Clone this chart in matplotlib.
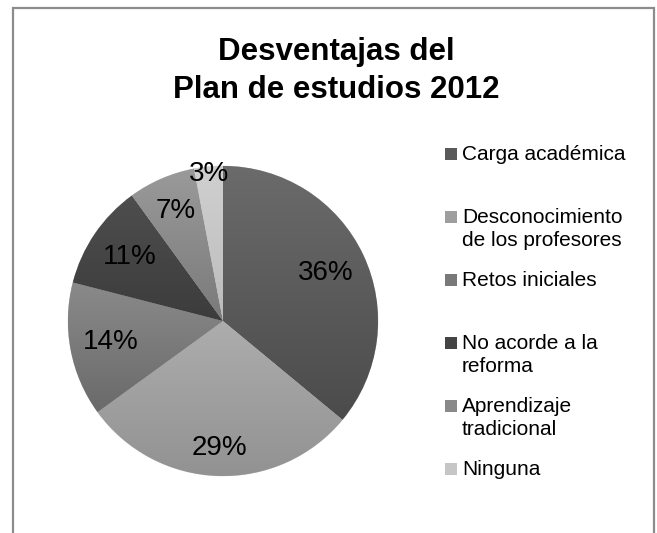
import numpy as np
import matplotlib.pyplot as plt
from matplotlib.patches import Rectangle
from matplotlib.colors import LinearSegmentedColormap

plt.rcParams['font.family'] = ['Liberation Sans', 'DejaVu Sans']

# 데이터
categorias = ['Carga académica', 'Desconocimiento\nde los profesores', 'Retos iniciales',
              'No acorde a la\nreforma', 'Aprendizaje\ntradicional', 'Ninguna']
porcentajes = [36, 29, 14, 11, 7, 3]
titulo = 'Desventajas del\nPlan de estudios 2012'

# 색상 (위쪽 -> 아래쪽 그라데이션)
color_arriba = ['#6b6b6b', '#adadad', '#8a8a8a', '#4e4e4e', '#9a9a9a', '#d0d0d0']
color_abajo = ['#4b4b4b', '#929292', '#6a6a6a', '#3c3c3c', '#7a7a7a', '#bcbcbc']
colores = ['#5a5a5a', '#9e9e9e', '#797979', '#444444', '#898989', '#c6c6c6']

W, H = 657, 533
fig = plt.figure(figsize=(W / 100, H / 100), dpi=100)

# 테두리 (아래쪽은 잘림)
fig.patches.append(Rectangle((13 / W, -0.05), 641 / W, 1.05 - 8 / H, transform=fig.transFigure,
                             fill=False, edgecolor='#8c8c8c', linewidth=1.6, clip_on=False))

fig.text(336 / W, 1 - 71 / H, titulo, ha='center', va='center', fontsize=22.5,
         fontweight='bold', linespacing=1.36)

# 파이
ax = fig.add_axes([68 / W, 1 - 476 / H, 310 / W, 310 / H])
wedges, _ = ax.pie(porcentajes, colors=colores, startangle=90, counterclock=False,
                   wedgeprops=dict(edgecolor='#d8d8d8', linewidth=0.4))

# 조각별 세로 그라데이션
grad = np.linspace(0, 1, 256).reshape(-1, 1)
for w, c1, c2 in zip(wedges, color_arriba, color_abajo):
    ext = w.get_path().get_extents(w.get_patch_transform())
    cmap = LinearSegmentedColormap.from_list('g', [c1, c2])
    im = ax.imshow(grad, cmap=cmap, aspect='auto', origin='upper',
                   extent=[ext.x0, ext.x1, ext.y0, ext.y1], zorder=1.5)
    im.set_clip_path(w)
ax.set_xlim(-1, 1)
ax.set_ylim(-1, 1)
ax.set_axis_off()

# 라벨 위치 (반지름 비율)
radios = [0.73, 0.82, 0.74, 0.73, 0.77, 0.95]
for w, p, r in zip(wedges, porcentajes, radios):
    ang = np.deg2rad((w.theta1 + w.theta2) / 2)
    ax.text(r * np.cos(ang), r * np.sin(ang), f'{p}%', ha='center', va='center',
            fontsize=20, color='black', clip_on=False, zorder=3)

# 범례 (수동)
for i, lab in enumerate(categorias):
    y = 154 + i * 63
    fig.patches.append(Rectangle((445 / W, 1 - (y + 6) / H), 12 / W, 12 / H,
                                 transform=fig.transFigure, facecolor=colores[i], edgecolor='none'))
    fig.text(462 / W, 1 - (y - 9) / H, lab, ha='left', va='top', fontsize=15, linespacing=1.28)

plt.savefig('out.png', dpi=100)
